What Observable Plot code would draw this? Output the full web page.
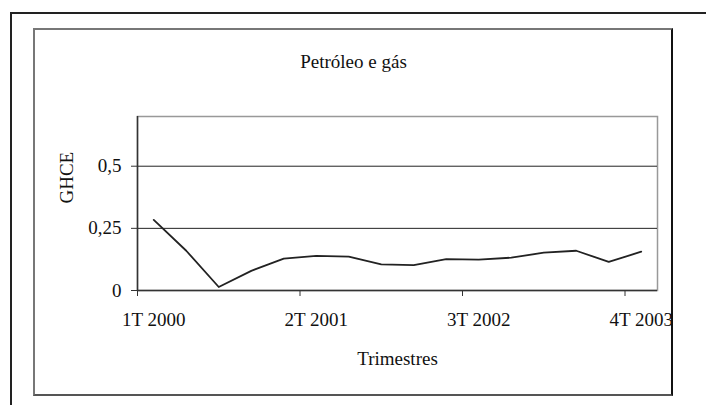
<!DOCTYPE html>
<html>
<head>
<meta charset="utf-8">
<script src="https://cdn.jsdelivr.net/npm/d3@7"></script>
<script src="https://cdn.jsdelivr.net/npm/@observablehq/plot@0.6"></script>
<style>
  html, body { margin: 0; padding: 0; background: #fff; }
  body { width: 706px; height: 405px; position: relative; overflow: hidden; }
  #outer { position: absolute; left: 10px; top: 12px; right: -10px; bottom: -10px;
           border-left: 2px solid #222; border-top: 2px solid #222; }
  #inner { position: absolute; left: 33px; top: 28px; width: 640px; height: 368px; box-sizing: border-box;
           border-left: 2px solid #777; border-top: 2px solid #777; border-right: 2px solid #111; border-bottom: 2px solid #555;
           overflow: hidden; }
  #chart { position: absolute; left: -35px; top: -30px; width: 706px; height: 405px; }
  #chart svg { max-width: none !important; width: 706px; height: 405px; }
  #chart svg, #chart svg text { font-family: "Liberation Serif", "Times New Roman", Times, "DejaVu Serif", serif !important; }
</style>
</head>
<body>
<div id="outer"></div>
<div id="inner"><div id="chart"></div></div>
<script>
const title = "Petróleo e gás";
const xLabel = "Trimestres";
const yLabel = "GHCE";
const categories = [
  "1T 2000", "2T 2000", "3T 2000", "4T 2000",
  "1T 2001", "2T 2001", "3T 2001", "4T 2001",
  "1T 2002", "2T 2002", "3T 2002", "4T 2002",
  "1T 2003", "2T 2003", "3T 2003", "4T 2003"
];
const values = [0.284, 0.160, 0.014, 0.079, 0.128, 0.139, 0.136, 0.105,
                0.102, 0.126, 0.124, 0.132, 0.152, 0.160, 0.115, 0.156];
const yTicks = [0, 0.25, 0.5];
const xTickIndex = [0, 5, 10, 15];

const data = categories.map((c, i) => ({i, c, v: values[i]}));

const chart = Plot.plot({
  width: 706,
  height: 405,
  marginLeft: 137,
  marginRight: 49,
  marginTop: 116,
  marginBottom: 115,
  style: {fontSize: "19px", background: "transparent", color: "#111", overflow: "visible"},
  x: {domain: [0, 16]},
  y: {domain: [0, 0.7]},
  marks: [
    Plot.frame({stroke: "#999", strokeWidth: 1.5}),
    Plot.ruleY(yTicks.filter(d => d > 0), {stroke: "#222", strokeWidth: 1}),
    // tick marks at category boundaries
    Plot.axisX({ticks: xTickIndex, tickSize: 6, text: null, label: null, stroke: "#333"}),
    // labels centred on their categories
    Plot.axisX({ticks: xTickIndex.map(i => i + 0.5), tickSize: 0, tickPadding: 22, tickFormat: t => categories[Math.floor(t)], label: null, fontSize: 19, fill: "#111"}),
    Plot.axisY({ticks: yTicks, tickFormat: d => String(d).replace(".", ","), tickSize: 6, tickPadding: 10, label: null, fontSize: 19, stroke: "#333"}),
    Plot.ruleX([0], {stroke: "#333", strokeWidth: 1.5}),
    Plot.ruleY([0], {stroke: "#333", strokeWidth: 1.5}),
    Plot.line(data, {x: d => d.i + 0.5, y: "v", stroke: "#222", strokeWidth: 1.8}),
    Plot.text([title], {frameAnchor: "top", dx: -44, dy: -55, lineAnchor: "middle", fontSize: 19, fill: "#111"}),
    Plot.text([xLabel], {frameAnchor: "bottom", dy: 74, lineAnchor: "bottom", fontSize: 19, fill: "#111"}),
    Plot.text([yLabel], {frameAnchor: "left", dx: -71, rotate: -90, lineAnchor: "middle", fontSize: 19, fill: "#111"})
  ]
});
document.getElementById("chart").appendChild(chart);
</script>
</body>
</html>
